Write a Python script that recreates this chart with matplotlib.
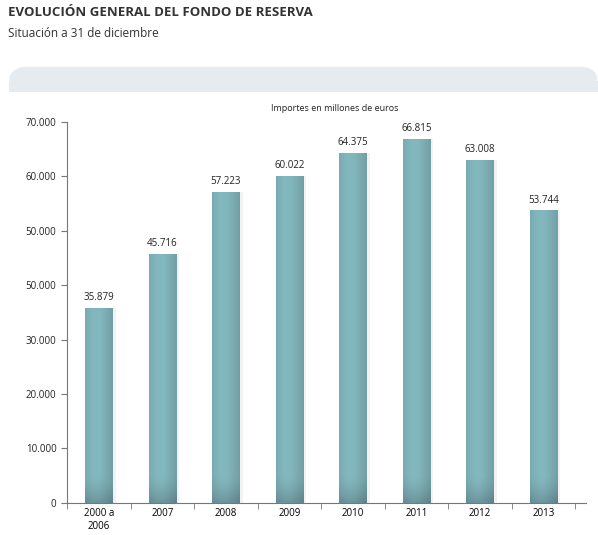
import numpy as np
import matplotlib
matplotlib.use("Agg")
import matplotlib.pyplot as plt
from matplotlib.patches import FancyBboxPatch, Rectangle

categories = ["2000 a\n2006", "2007", "2008", "2009", "2010", "2011", "2012", "2013"]
values = [35879, 45716, 57223, 60022, 64375, 66815, 63008, 53744]
value_labels = ["35.879", "45.716", "57.223", "60.022", "64.375", "66.815", "63.008", "53.744"]
ytick_values = [0, 10000, 20000, 30000, 40000, 50000, 60000, 70000]
ytick_labels = ["0", "10.000", "20.000", "30.000", "50.000", "50.000", "60.000", "70.000"]

plt.rcParams['font.family'] = ['Open Sans', 'DejaVu Sans']

fig = plt.figure(figsize=(5.98, 5.35), dpi=100)

# titles
fig.text(0.013, 0.977, "EVOLUCIÓN GENERAL DEL FONDO DE RESERVA", fontsize=9.5,
         fontweight="bold", color="#333333", va="center")
fig.text(0.013, 0.938, "Situación a 31 de diciembre", fontsize=8.5, color="#333333", va="center")

# gray header band (rounded top, flat bottom)
band = FancyBboxPatch((0.015, 0.83), 0.985, 0.045, boxstyle="round,pad=0,rounding_size=0.03",
                      transform=fig.transFigure, facecolor="#e6ebef", edgecolor="none")
fig.patches.append(band)
fig.patches.append(Rectangle((0.015, 0.828), 0.985, 0.02, transform=fig.transFigure,
                             facecolor="#e6ebef", edgecolor="none"))

fig.text(0.56, 0.798, "Importes en millones de euros", fontsize=6.5, color="#222222", ha="center", va="center")

ax = fig.add_axes([0.112, 0.06, 0.868, 0.712])
x = np.arange(len(categories))
width = 0.43
bars = ax.bar(x, values, width=width, color="#7db2b9", zorder=2)

# horizontal + vertical shading for each bar
h = np.linspace(0, 1, 64)
hor = 1 - 0.14 * (np.abs(h - 0.4) / 0.6) ** 1.5
cl = np.array([0x84, 0xb8, 0xbf]) / 255
for b, v in zip(bars, values):
    yy = np.linspace(0, v, 200)[:, None]
    vert = 1 - 0.18 * np.clip(1 - yy / 5000, 0, 1) ** 1.5
    img = cl[None, None, :] * (hor[None, :, None] * vert[:, :, None])
    x0 = b.get_x()
    # soft shadow on the right
    ax.bar(x0 + width / 2 + 0.05, v, width=width, color="#000000", alpha=0.05, zorder=1)
    im = ax.imshow(np.clip(img, 0, 1), extent=(x0, x0 + width, 0, v), origin="lower",
                   aspect="auto", zorder=3)
    im.set_clip_path(b)

for xi, v, lab in zip(x, values, value_labels):
    ax.text(xi, v + 900, lab, ha="center", va="bottom", fontsize=7, color="#222222")

ax.set_xlim(-0.48, len(categories) - 0.33)
ax.set_ylim(0, 70000)
ax.set_yticks(ytick_values)
ax.set_yticklabels(ytick_labels, fontsize=7)
ax.set_xticks(x)
ax.set_xticklabels(categories, fontsize=7)
ax.set_xticks(np.arange(len(categories) + 1) - 0.5, minor=True)
ax.tick_params(axis="x", which="major", length=0, pad=4)
ax.tick_params(axis="x", which="minor", length=4, color="#777777")
ax.tick_params(axis="y", length=4, color="#777777", colors="#222222")
for s in ["top", "right"]:
    ax.spines[s].set_visible(False)
ax.spines["left"].set_color("#777777")
ax.spines["bottom"].set_color("#777777")

fig.savefig("out.png", dpi=100)
